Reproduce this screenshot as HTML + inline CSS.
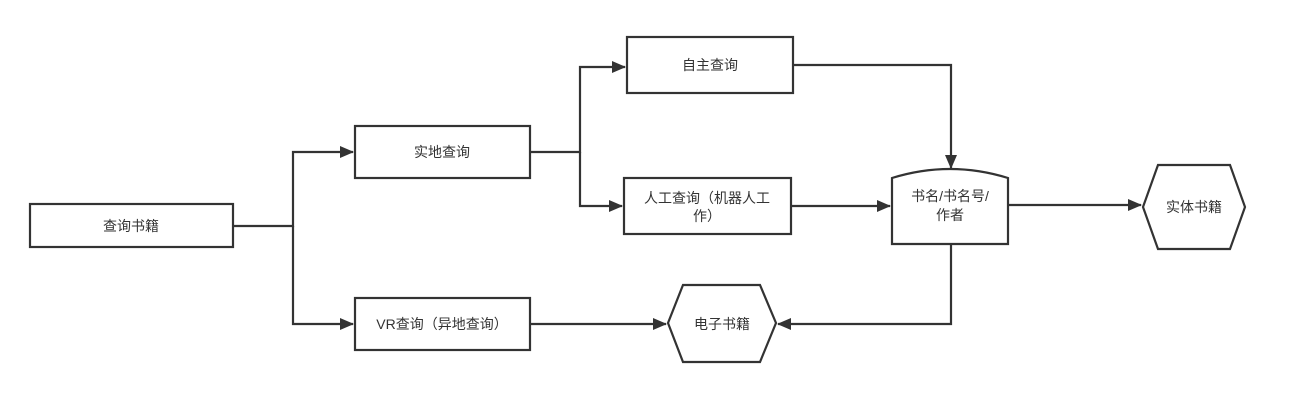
<!DOCTYPE html>
<html><head><meta charset="utf-8"><style>
body{margin:0;background:#fff;}
svg text{font-family:"Liberation Sans","Noto Sans CJK SC",sans-serif;font-size:14px;fill:#333;text-anchor:middle;}
</style></head><body>
<svg width="1297" height="407" viewBox="0 0 1297 407" xmlns="http://www.w3.org/2000/svg">
<defs><marker id="a" markerWidth="14" markerHeight="12" refX="13" refY="6" orient="auto" markerUnits="userSpaceOnUse"><path d="M0,0 L14,6 L0,12 z" fill="#333"/></marker></defs>
<g fill="none" stroke="#333" stroke-width="2.2">
<rect x="30" y="204" width="203" height="43" fill="#fff"/>
<rect x="355" y="126" width="175" height="52"/>
<rect x="355" y="298" width="175" height="52"/>
<rect x="627" y="37" width="166" height="56"/>
<rect x="624" y="178" width="167" height="56"/>
<path d="M892,178 Q950,160 1008,178 L1008,244 L892,244 Z"/>
<path d="M1158,165 L1230,165 L1245,207 L1230,249 L1158,249 L1143,207 Z"/>
<path d="M683,285 L760,285 L776,323 L760,362 L683,362 L668,323 Z"/>
<path d="M233,226 H293 V152 H353" marker-end="url(#a)"/>
<path d="M293,226 V324 H353" marker-end="url(#a)"/>
<path d="M530,152 H580 V67 H625" marker-end="url(#a)"/>
<path d="M580,152 V206 H622" marker-end="url(#a)"/>
<path d="M793,65 H951 V168" marker-end="url(#a)"/>
<path d="M791,206 H890" marker-end="url(#a)"/>
<path d="M1008,205 H1141" marker-end="url(#a)"/>
<path d="M951,244 V324 H778" marker-end="url(#a)"/>
<path d="M530,324 H666" marker-end="url(#a)"/>
</g>
<text x="131" y="231">查询书籍</text>
<text x="442" y="157">实地查询</text>
<text x="442" y="329">VR查询（异地查询）</text>
<text x="710" y="70">自主查询</text>
<text x="707" y="203">人工查询（机器人工</text>
<text x="707" y="221">作）</text>
<text x="950" y="201">书名/书名号/</text>
<text x="950" y="220">作者</text>
<text x="1194" y="212">实体书籍</text>
<text x="722" y="329">电子书籍</text>
</svg>
</body></html>
